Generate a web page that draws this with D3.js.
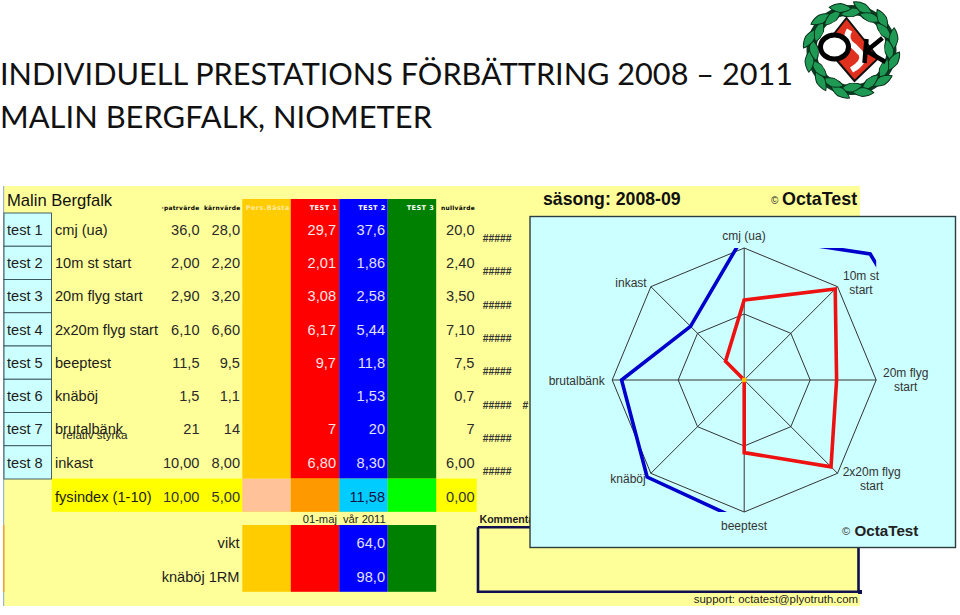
<!DOCTYPE html>
<html><head><meta charset="utf-8">
<script src="https://cdn.jsdelivr.net/npm/d3@7/dist/d3.min.js"></script>
<style>html,body{margin:0;padding:0;background:#fff}svg{display:block}text{font-family:"Liberation Sans",Arial,sans-serif}</style>
</head><body><div id="c"></div>
<script>
// ---------- data ----------
const titleLines = ["INDIVIDUELL PRESTATIONS FÖRBÄTTRING 2008 – 2011", "MALIN BERGFALK, NIOMETER"];
const sheetName = "Malin Bergfalk";
const testIds = ["test 1","test 2","test 3","test 4","test 5","test 6","test 7","test 8"];
const testNames = ["cmj (ua)","10m st start","20m flyg start","2x20m flyg start","beeptest","knäböj","brutalbänk","inkast"];
const topValues = ["36,0","2,00","2,90","6,10","11,5","1,5","21","10,00"];
const coreValues = ["28,0","2,20","3,20","6,60","9,5","1,1","14","8,00"];
const test1Values = ["29,7","2,01","3,08","6,17","9,7","","7","6,80"];
const test2Values = ["37,6","1,86","2,58","5,44","11,8","1,53","20","8,30"];
const nullValues = ["20,0","2,40","3,50","7,10","7,5","0,7","7","6,00"];
const colKeys = ["best","t1","t2","t3"];
const colHeaders = ["Pers.Bästa","TEST 1","TEST 2","TEST 3"];
const indexRow = ["fysindex (1-10)","10,00","5,00","11,58","0,00"];
const extraNames = ["vikt","knäböj 1RM"];
const extraValues = ["64,0","98,0"];
const radarAxes = [["cmj (ua)"],["10m st","start"],["20m flyg","start"],["2x20m flyg","start"],["beeptest"],["knäböj"],["brutalbänk"],["inkast"]];
const radarRings = [5,10];
const radarTest1 = [6.06,9.75,7,9.3,5.5,0,0,2];
const radarTest2 = [11,13.5,15.3,16.6,10.75,10.4,9.29,5.75];
const radarBest = [0,0,0,0,0,0,0,0];

// ---------- layout ----------
const W=960,H=615;
const svg=d3.select("#c").append("svg").attr("width",W).attr("height",H);
const font=(s,size,opt={})=>{s.attr("font-size",size).attr("fill",opt.fill||"#1c1c1c").attr("font-weight",opt.weight||"normal").attr("text-anchor",opt.anchor||"start");if(opt.family)s.style("font-family",opt.family);return s;};

// title
const titleWidths=[793,432];
font(svg.selectAll("text.title").data(titleLines).join("text").attr("class","title")
  .attr("x",0).attr("y",(d,i)=>84.5+i*43.5).attr("textLength",(d,i)=>titleWidths[i]).attr("lengthAdjust","spacingAndGlyphs").text(d=>d),30.9,{fill:"#111",family:"Lato"});

// sheet
const sheet=svg.append("g");
sheet.append("rect").attr("x",4).attr("y",186).attr("width",856).attr("height",420).attr("fill","#FFFF99");
sheet.append("rect").attr("x",3).attr("y",186).attr("width",1.2).attr("height",420).attr("fill","#9fb4c8");
sheet.append("rect").attr("x",3).attr("y",525).attr("width",1.5).attr("height",67).attr("fill","#F0A030");

const rows=d3.scaleBand().domain(testNames).range([213,479]);
const cols=d3.scaleBand().domain(colKeys).range([242.3,436.2]);
const colFill={best:"#FFCC00",t1:"#FF0000",t2:"#0000FF",t3:"#008000"};
const idxFill={best:"#FFC299",t1:"#FF9900",t2:"#00CCFF",t3:"#00FF00"};
const rh=rows.bandwidth();

// coloured columns
sheet.selectAll("rect.col").data(colKeys).join("rect").attr("x",d=>cols(d)).attr("y",199).attr("width",cols.bandwidth()).attr("height",280).attr("fill",d=>colFill[d]);
sheet.append("rect").attr("x",51.7).attr("y",478.6).attr("width",425).attr("height",33.2).attr("fill","#FFFF00");
sheet.selectAll("rect.idx").data(colKeys).join("rect").attr("x",d=>cols(d)).attr("y",478.6).attr("width",cols.bandwidth()).attr("height",33.2).attr("fill",d=>idxFill[d]);
sheet.selectAll("rect.low").data(colKeys).join("rect").attr("x",d=>cols(d)).attr("y",525).attr("width",cols.bandwidth()).attr("height",66.8).attr("fill",d=>colFill[d]);

// id cells
sheet.selectAll("rect.id").data(testNames).join("rect").attr("x",4).attr("y",d=>rows(d)).attr("width",47.5).attr("height",rh).attr("fill","#CCFFFF").attr("stroke","#33505a").attr("stroke-width",0.9);

const FS=14.6, bl=d=>rows(d)+rh/2+5.2;
font(sheet.selectAll("text.id").data(testNames).join("text").attr("x",7).attr("y",bl).text((d,i)=>testIds[i]),FS);
font(sheet.selectAll("text.nm").data(testNames).join("text").attr("x",55).attr("y",bl).text(d=>d),FS);
const numCol=(vals,x,fill)=>font(sheet.selectAll(null).data(vals).join("text").attr("x",x).attr("y",(d,i)=>bl(testNames[i])).text(d=>d),FS,{anchor:"end",fill});
numCol(topValues,199.5,"#2a2a2a");
numCol(coreValues,240,"#2a2a2a");
numCol(test1Values,336,"#ffe6e6");
numCol(test2Values,385,"#e2e2ff");
numCol(nullValues,474.5,"#2a2a2a");
font(sheet.append("text").attr("x",62.5).attr("y",438.5).text("relativ styrka"),11.6,{fill:"#222"});

// sheet title and headers
font(sheet.append("text").attr("x",7).attr("y",205.5).text(sheetName),16.6,{fill:"#111"});
const hdr={family:"'DejaVu Sans',sans-serif",weight:"bold"};
const hs=(s)=>s.attr("letter-spacing",0.3);
hs(font(sheet.append("text").attr("x",199.5).attr("y",209.5).text("·patrvärde"),5.9,{...hdr,anchor:"end",fill:"#000"}));
hs(font(sheet.append("text").attr("x",240.5).attr("y",209.5).text("kärnvärde"),5.9,{...hdr,anchor:"end",fill:"#000"}));
hs(font(sheet.append("text").attr("x",475).attr("y",209.5).text("nullvärde"),5.9,{...hdr,anchor:"end",fill:"#000"}));
font(sheet.selectAll("text.ch").data(colKeys).join("text").attr("class","ch").attr("x",d=>cols(d)+cols.bandwidth()-(d==="best"?1:2)).attr("y",209.5).text((d,i)=>colHeaders[i]),6.6,{...hdr,anchor:"end",fill:"#fff"}).attr("letter-spacing",0.4).attr("fill",d=>d==="best"?"#FFE9A0":"#fff");

// hash marks (overflowing cells)
const hashY=d3.scaleBand().domain(testNames).range([221.5,488]);
font(sheet.selectAll("text.h").data(testNames).join("text").attr("x",482.7).attr("y",d=>hashY(d)+rh/2+4).text("#####"),10.4,{weight:"bold",fill:"#333"});
font(sheet.append("text").attr("x",522.5).attr("y",hashY("knäböj")+rh/2+4).text("#"),10.4,{weight:"bold",fill:"#333"});

// index row
const idxY=501.5;
font(sheet.append("text").attr("x",55).attr("y",idxY).text(indexRow[0]),FS);
font(sheet.append("text").attr("x",199.5).attr("y",idxY).text(indexRow[1]),FS,{anchor:"end",fill:"#333"});
font(sheet.append("text").attr("x",240).attr("y",idxY).text(indexRow[2]),FS,{anchor:"end",fill:"#333"});
font(sheet.append("text").attr("x",385).attr("y",idxY).text(indexRow[3]),FS,{anchor:"end",fill:"#114"});
font(sheet.append("text").attr("x",474.5).attr("y",idxY).text(indexRow[4]),FS,{anchor:"end",fill:"#333"});

// lower rows
font(sheet.append("text").attr("x",302.7).attr("y",522.7).text("01-maj"),11.2,{fill:"#222"});
font(sheet.append("text").attr("x",343).attr("y",522.7).text("vår 2011"),11.2,{fill:"#222"});
const lowY=[548.3,581.6];
extraNames.forEach((n,i)=>{
  font(sheet.append("text").attr("x",239.5).attr("y",lowY[i]).text(n),FS,{anchor:"end"});
  font(sheet.append("text").attr("x",385).attr("y",lowY[i]).text(extraValues[i]),FS,{anchor:"end",fill:"#e2e2ff"});
});
font(sheet.append("text").attr("x",479.5).attr("y",523).text("Kommentarer"),10.6,{weight:"bold",fill:"#222"});
sheet.append("path").attr("d","M478,527.2V591.7H858.5V527.2H478").attr("fill","none").attr("stroke","#101050").attr("stroke-width",2.6);
sheet.append("rect").attr("x",858).attr("y",590).attr("width",4).attr("height",4).attr("fill","#101050");
font(sheet.append("text").attr("x",858).attr("y",603).text("support: octatest@plyotruth.com"),11.4,{anchor:"end",fill:"#222"});

font(sheet.append("text").attr("x",543).attr("y",205).text("säsong:  2008-09"),17.7,{weight:"bold",fill:"#111"});
font(sheet.append("text").attr("x",771).attr("y",204).text("©"),10,{fill:"#222"});
font(sheet.append("text").attr("x",782).attr("y",205).text("OctaTest"),17.9,{weight:"bold",fill:"#111"});

// radar panel
const px0=530,py0=216.5,px1=955.5,py1=547.5;
svg.append("rect").attr("x",px0).attr("y",py0).attr("width",px1-px0).attr("height",py1-py0).attr("fill","#CCFFFF").attr("stroke","#2c3c40").attr("stroke-width",1.4);
const cx=744.2,cy=380;
const r=d3.scaleLinear().domain([0,10]).range([0,132]);
const ang=d3.scaleBand().domain(d3.range(radarAxes.length)).range([0,2*Math.PI]);
const radial=d3.lineRadial().angle((d,i)=>ang(i)).radius(d=>r(d)).curve(d3.curveLinearClosed);
const radar=svg.append("g").attr("transform",`translate(${cx},${cy})`);
const defs=svg.append("defs");
defs.append("clipPath").attr("id","plot").append("rect").attr("x",-r(10)).attr("y",-r(10)).attr("width",2*r(10)).attr("height",2*r(10));
radar.selectAll("path.ring").data(radarRings).join("path").attr("d",v=>radial(radarAxes.map(()=>v))).attr("fill","none").attr("stroke","#333").attr("stroke-width",1);
radar.selectAll("line.sp").data(radarAxes).join("line").attr("x1",0).attr("y1",0)
  .attr("x2",(d,i)=>r(10)*Math.sin(ang(i))).attr("y2",(d,i)=>-r(10)*Math.cos(ang(i))).attr("stroke","#333").attr("stroke-width",1);
const series=radar.append("g").attr("clip-path","url(#plot)");
[[radarTest2,"#0000CC"],[radarTest1,"#EE1111"]].forEach(([v,c])=>{
  series.append("path").attr("d",radial(v)).attr("fill","none").attr("stroke",c).attr("stroke-width",3.6).attr("stroke-linejoin","miter");
});
series.append("path").attr("d",d3.lineRadial().angle((d,i)=>ang(i)).radius(d=>r(d))(radarBest)).attr("fill","none").attr("stroke","#FFBB00").attr("stroke-width",4.5).attr("stroke-linecap","square");

const labelPos=[[744,240],[861,280],[905.7,377],[871.7,475.5],[744,530],[628,482.5],[576.7,384.5],[631,287]];
radarAxes.forEach((lines,i)=>{
  font(svg.append("g").selectAll("text").data(lines).join("text").attr("x",labelPos[i][0]).attr("y",(d,j)=>labelPos[i][1]+j*14).text(d=>d),12,{anchor:"middle",fill:"#333"});
});
font(svg.append("text").attr("x",842).attr("y",535).text("©"),11,{fill:"#333"});
font(svg.append("text").attr("x",854.5).attr("y",535.5).text("OctaTest"),15.2,{weight:"bold",fill:"#222"});

// club emblem
const logo=svg.append("g").attr("transform","translate(851.5,50)");
const leafA=d3.range(0,360,15);
logo.append("circle").attr("r",40).attr("fill","none").attr("stroke","#0c3a22").attr("stroke-width",10);
logo.selectAll("path.leaf").data(leafA).join("path")
  .attr("d","M0,-4.5Q7,-3.5 11,0Q7,3.5 0,4.5Q-7,3.5 -11,0Q-7,-3.5 0,-4.5Z")
  .attr("transform",(d,i)=>`rotate(${d}) translate(0,${-40-(i%2?3.5:-2.5)}) rotate(${i%2?18:-12})`)
  .attr("fill","#1f9a55").attr("stroke","#07301a").attr("stroke-width",1);
logo.append("circle").attr("r",33).attr("fill","#fff");
logo.append("path").attr("d","M-5,-32L27,8L3,31L-27,-4Z").attr("fill","#E0301E").attr("stroke","#111").attr("stroke-width",2);
logo.append("path").attr("d","M-2,-20Q-8,-10 2,-4L10,4Q14,12 0,20").attr("fill","none").attr("stroke","#fff").attr("stroke-width",6);
logo.append("ellipse").attr("cx",-17).attr("cy",-3).attr("rx",14).attr("ry",12).attr("fill","#fff").attr("stroke","#000").attr("stroke-width",5);
logo.append("path").attr("d","M15,-11L13,13M31,-12L15,1L34,12").attr("fill","none").attr("stroke","#000").attr("stroke-width",4.5);
</script></body></html>
